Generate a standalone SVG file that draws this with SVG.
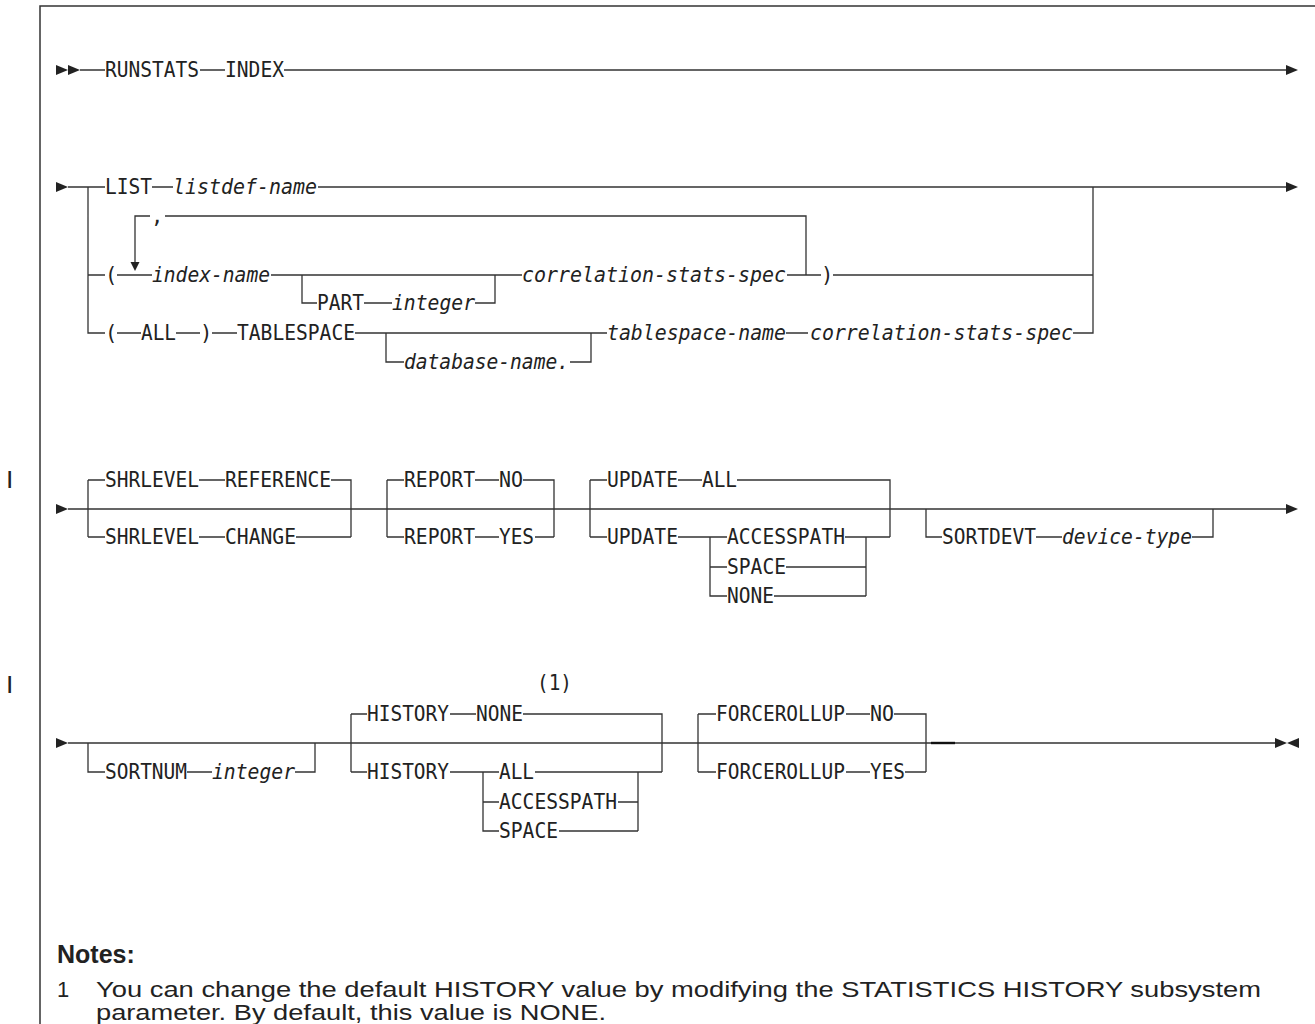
<svg xmlns="http://www.w3.org/2000/svg" width="1315" height="1024" viewBox="0 0 1315 1024">
<style>
.t{font-family:"DejaVu Sans Mono","Liberation Mono",monospace;font-size:20.5px;fill:#222}
.i{font-style:italic}
.l{stroke:#333;stroke-width:1.3;fill:none}
.a{fill:#222}
.n{font-family:"Liberation Sans",Arial,sans-serif;font-size:22px;fill:#222}
.nh{font-family:"Liberation Sans",Arial,sans-serif;font-size:25px;font-weight:bold;fill:#222}
.cb{font-family:"Liberation Sans",Arial,sans-serif;font-size:19px;font-weight:bold;fill:#222}
</style>
<rect width="1315" height="1024" fill="#fff"/>
<path d="M40,1024 V6 H1315" stroke="#333" stroke-width="1.5" fill="none"/>
<g id="connectors">
<path class="l" d="M80,70 H105 M200,70 H225 M284,70 H1287"/>
<path class="l" d="M68,187 H105 M152,187 H173 M318,187 H1287 M88,187 V333 H105 M88,275 H105 M117,275 H152 M271,275 H522 M302,275 V303 H317 M364,303 H392 M475,303 H495 V275 M787,275 H821 M833,275 H1093 M135,262 V216 H150 M165,216 H806 V275 M1093,187 V333 H1073 M117,333 H141 M176,333 H200 M212,333 H237 M355,333 H607 M386,333 V362 H404 M570,362 H591 V333 M786,333 H808"/>
<path class="l" d="M68,509 H1287 M88,480 V537 M88,480 H105 M88,537 H105 M199,480 H225 M331,480 H351 V537 M199,537 H225 M296,537 H351 M387,480 V537 M387,480 H404 M387,537 H404 M475,480 H499 M523,480 H554 V537 M475,537 H499 M535,537 H554 M590,480 V537 M590,480 H607 M590,537 H607 M678,480 H702 M737,480 H890 V537 M845,537 H890 M678,537 H727 M710,537 V596 H727 M710,567 H727 M786,567 H866 M774,596 H866 M866,537 V596 M926,509 V537 H942 M1036,537 H1062 M1192,537 H1213 V509"/>
<path class="l" d="M68,743 H1275 M88,743 V772 H105 M187,772 H212 M295,772 H315 V743 M351,714 V772 M351,714 H367 M351,772 H367 M450,714 H476 M523,714 H662 V772 M450,772 H499 M483,772 V831 H499 M483,802 H499 M535,772 H662 M618,802 H638 M559,831 H638 M638,772 V831 M698,714 V772 M698,714 H716 M698,772 H716 M846,714 H870 M894,714 H926 V772 M846,772 H870 M905,772 H926"/>
<path d="M931,743 H955" stroke="#111" stroke-width="2.4"/>
<g class="a">
<polygon points="56,65 68,70 56,75"/><polygon points="68,65 80,70 68,75"/><polygon points="1286,65 1298,70 1286,75"/>
<polygon points="56,182 68,187 56,192"/><polygon points="1286,182 1298,187 1286,192"/><polygon points="130.5,262 139.5,262 135,271"/>
<polygon points="56,504 68,509 56,514"/><polygon points="1286,504 1298,509 1286,514"/>
<polygon points="56,738 68,743 56,748"/><polygon points="1275,738 1287,743 1275,748"/><polygon points="1299,738 1287,743 1299,748"/>
</g>
</g>
<g id="runstats"><text class="t" x="105" y="77" textLength="94" lengthAdjust="spacingAndGlyphs">RUNSTATS</text></g>
<g id="index"><text class="t" x="225" y="77" textLength="59" lengthAdjust="spacingAndGlyphs">INDEX</text></g>
<g id="list"><text class="t" x="105" y="194" textLength="47" lengthAdjust="spacingAndGlyphs">LIST</text></g>
<g id="listdef-name"><text class="t i" x="173" y="194" textLength="144" lengthAdjust="spacingAndGlyphs">listdef-name</text></g>
<g id="comma"><text class="t" x="151" y="223">,</text></g>
<g id="lparen1"><text class="t" x="105" y="282">(</text></g>
<g id="index-name"><text class="t i" x="152" y="282" textLength="118" lengthAdjust="spacingAndGlyphs">index-name</text></g>
<g id="part"><text class="t" x="317" y="310" textLength="47" lengthAdjust="spacingAndGlyphs">PART</text></g>
<g id="part-integer"><text class="t i" x="392" y="310" textLength="83" lengthAdjust="spacingAndGlyphs">integer</text></g>
<g id="corr1"><text class="t i" x="522" y="282" textLength="264" lengthAdjust="spacingAndGlyphs">correlation-stats-spec</text></g>
<g id="rparen1"><text class="t" x="821" y="282">)</text></g>
<g id="lparen2"><text class="t" x="105" y="340">(</text></g>
<g id="all1"><text class="t" x="141" y="340" textLength="35" lengthAdjust="spacingAndGlyphs">ALL</text></g>
<g id="rparen2"><text class="t" x="200" y="340">)</text></g>
<g id="tablespace"><text class="t" x="237" y="340" textLength="118" lengthAdjust="spacingAndGlyphs">TABLESPACE</text></g>
<g id="database-name"><text class="t i" x="404" y="369" textLength="165" lengthAdjust="spacingAndGlyphs">database-name.</text></g>
<g id="tablespace-name"><text class="t i" x="607" y="340" textLength="179" lengthAdjust="spacingAndGlyphs">tablespace-name</text></g>
<g id="corr2"><text class="t i" x="810" y="340" textLength="263" lengthAdjust="spacingAndGlyphs">correlation-stats-spec</text></g>
<g id="shr-ref"><text class="t" x="105" y="487" textLength="94" lengthAdjust="spacingAndGlyphs">SHRLEVEL</text><text class="t" x="225" y="487" textLength="106" lengthAdjust="spacingAndGlyphs">REFERENCE</text></g>
<g id="shr-chg"><text class="t" x="105" y="544" textLength="94" lengthAdjust="spacingAndGlyphs">SHRLEVEL</text><text class="t" x="225" y="544" textLength="71" lengthAdjust="spacingAndGlyphs">CHANGE</text></g>
<g id="report-no"><text class="t" x="404" y="487" textLength="71" lengthAdjust="spacingAndGlyphs">REPORT</text><text class="t" x="499" y="487" textLength="24" lengthAdjust="spacingAndGlyphs">NO</text></g>
<g id="report-yes"><text class="t" x="404" y="544" textLength="71" lengthAdjust="spacingAndGlyphs">REPORT</text><text class="t" x="499" y="544" textLength="35" lengthAdjust="spacingAndGlyphs">YES</text></g>
<g id="update-all"><text class="t" x="607" y="487" textLength="71" lengthAdjust="spacingAndGlyphs">UPDATE</text><text class="t" x="702" y="487" textLength="35" lengthAdjust="spacingAndGlyphs">ALL</text></g>
<g id="update"><text class="t" x="607" y="544" textLength="71" lengthAdjust="spacingAndGlyphs">UPDATE</text></g>
<g id="upd-accesspath"><text class="t" x="727" y="544" textLength="118" lengthAdjust="spacingAndGlyphs">ACCESSPATH</text></g>
<g id="upd-space"><text class="t" x="727" y="574" textLength="59" lengthAdjust="spacingAndGlyphs">SPACE</text></g>
<g id="upd-none"><text class="t" x="727" y="603" textLength="47" lengthAdjust="spacingAndGlyphs">NONE</text></g>
<g id="sortdevt"><text class="t" x="942" y="544" textLength="94" lengthAdjust="spacingAndGlyphs">SORTDEVT</text><text class="t i" x="1062" y="544" textLength="130" lengthAdjust="spacingAndGlyphs">device-type</text></g>
<g id="sortnum"><text class="t" x="105" y="779" textLength="82" lengthAdjust="spacingAndGlyphs">SORTNUM</text><text class="t i" x="212" y="779" textLength="83" lengthAdjust="spacingAndGlyphs">integer</text></g>
<g id="history-none"><text class="t" x="367" y="721" textLength="82" lengthAdjust="spacingAndGlyphs">HISTORY</text><text class="t" x="476" y="721" textLength="47" lengthAdjust="spacingAndGlyphs">NONE</text><text class="t" x="537" y="690" textLength="35" lengthAdjust="spacingAndGlyphs">(1)</text></g>
<g id="history"><text class="t" x="367" y="779" textLength="82" lengthAdjust="spacingAndGlyphs">HISTORY</text></g>
<g id="hist-all"><text class="t" x="499" y="779" textLength="35" lengthAdjust="spacingAndGlyphs">ALL</text></g>
<g id="hist-accesspath"><text class="t" x="499" y="809" textLength="118" lengthAdjust="spacingAndGlyphs">ACCESSPATH</text></g>
<g id="hist-space"><text class="t" x="499" y="838" textLength="59" lengthAdjust="spacingAndGlyphs">SPACE</text></g>
<g id="forcerollup-no"><text class="t" x="716" y="721" textLength="129" lengthAdjust="spacingAndGlyphs">FORCEROLLUP</text><text class="t" x="870" y="721" textLength="24" lengthAdjust="spacingAndGlyphs">NO</text></g>
<g id="forcerollup-yes"><text class="t" x="716" y="779" textLength="129" lengthAdjust="spacingAndGlyphs">FORCEROLLUP</text><text class="t" x="870" y="779" textLength="35" lengthAdjust="spacingAndGlyphs">YES</text></g>
<g id="changebars"><text class="cb" x="7" y="484">|</text><text class="cb" x="7" y="689">|</text></g>
<g id="notes">
<text class="nh" x="57" y="963">Notes:</text>
<text class="n" x="57" y="997">1</text>
<text class="n" x="96" y="997" textLength="1165" lengthAdjust="spacingAndGlyphs">You can change the default HISTORY value by modifying the STATISTICS HISTORY subsystem</text>
<text class="n" x="96" y="1020" textLength="510" lengthAdjust="spacingAndGlyphs">parameter. By default, this value is NONE.</text>
</g>
</svg>
